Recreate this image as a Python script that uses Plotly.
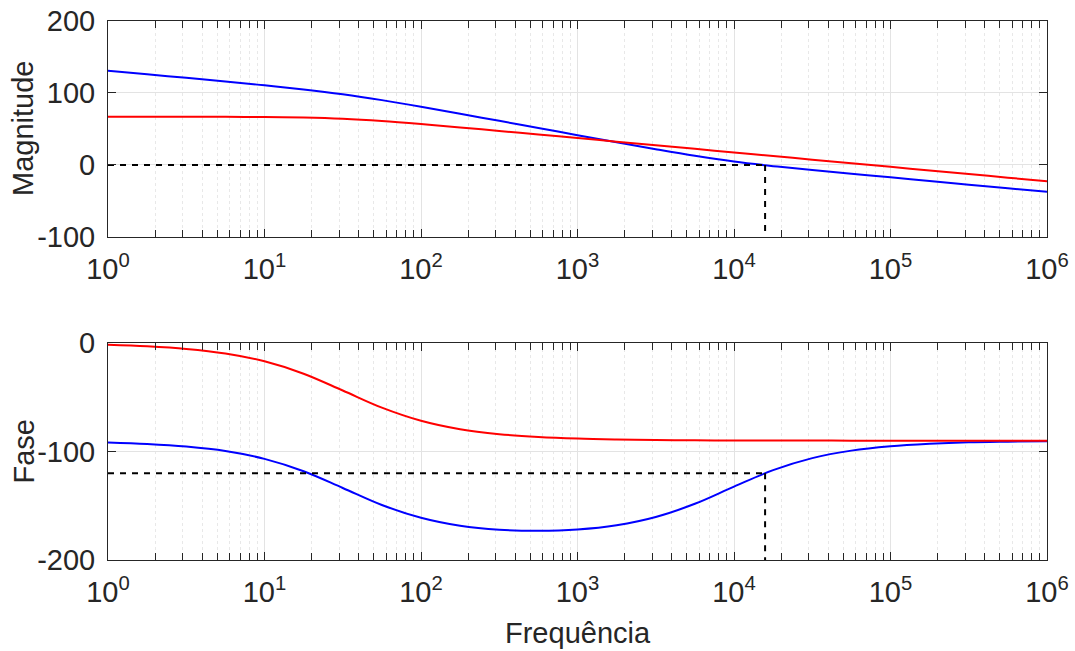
import plotly.graph_objects as go

# ---- data ----
freq = [1, 1.778, 3.162, 5.623, 10, 17.78, 31.62, 56.23, 100, 177.8, 316.2, 562.3,
        1000, 1778, 3162, 5623, 10000, 17783, 31623, 56234, 100000, 177828, 316228,
        562341, 1000000]
mag_open = [131.0, 126.0, 121.0, 115.9, 110.6, 104.9, 98.2, 90.1, 80.9, 71.2, 61.3, 51.4,
            41.4, 31.5, 21.9, 12.8, 4.8, -1.6, -7.1, -12.3, -17.2, -22.3, -27.3, -32.3, -37.3]
mag_plant = [67.0, 67.0, 67.0, 66.9, 66.6, 65.9, 64.2, 61.1, 56.9, 52.2, 47.3, 42.4,
             37.4, 32.4, 27.4, 22.4, 17.4, 12.4, 7.4, 2.4, -2.6, -7.6, -12.6, -17.6, -22.6]
phase_open = [-91.7, -93.1, -95.5, -99.6, -106.8, -118.2, -133.6, -149.3, -161.1, -168.4,
              -172.1, -173.1, -171.9, -168.0, -160.4, -148.2, -132.4, -117.2, -106.1, -99.2,
              -95.2, -92.9, -91.5, -90.9, -90.5]
phase_plant = [-1.7, -3.1, -5.5, -9.7, -16.9, -28.3, -43.8, -59.6, -71.7, -79.5, -84.0,
               -86.6, -88.1, -88.9, -89.4, -89.7, -89.8, -89.9, -89.9, -90.0, -90.0, -90.0,
               -90.0, -90.0, -90.0]

f_start = 1
f_cross = 15800          # crossover frequency
mag_ref = 0              # 0 dB line
mag_min = -100
phase_ref = -120         # phase at crossover
phase_min = -200

x_tickvals = [1, 10, 100, 1000, 10000, 100000, 1000000]
x_ticktext = ["10<sup>0</sup>", "10<sup>1</sup>", "10<sup>2</sup>", "10<sup>3</sup>",
              "10<sup>4</sup>", "10<sup>5</sup>", "10<sup>6</sup>"]
mag_ticks = [-100, 0, 100, 200]
mag_ticktext = ["-100", "0", "100", "200"]
phase_ticks = [-200, -100, 0]
phase_ticktext = ["-200", "-100", "0"]

# ---- figure ----
BLUE = "rgb(0,0,255)"
RED = "rgb(255,0,0)"
TXT = "#262626"
FONT = "Liberation Sans, Arial, sans-serif"

fig = go.Figure()

def curves(xa, ya, yb, yr):
    fig.add_trace(go.Scatter(x=freq, y=yb, mode="lines", line=dict(color=BLUE, width=2, shape="spline"),
                             xaxis=xa, yaxis=ya, showlegend=False, hoverinfo="skip"))
    fig.add_trace(go.Scatter(x=freq, y=yr, mode="lines", line=dict(color=RED, width=2, shape="spline"),
                             xaxis=xa, yaxis=ya, showlegend=False, hoverinfo="skip"))

curves("x", "y", mag_open, mag_plant)
curves("x2", "y2", phase_open, phase_plant)

dash = dict(color="black", width=2, dash="6px,6px")
fig.add_trace(go.Scatter(x=[f_start, f_cross], y=[mag_ref, mag_ref], mode="lines", line=dash,
                         xaxis="x", yaxis="y", showlegend=False, hoverinfo="skip"))
fig.add_trace(go.Scatter(x=[f_cross, f_cross], y=[mag_ref, mag_min], mode="lines", line=dash,
                         xaxis="x", yaxis="y", showlegend=False, hoverinfo="skip"))
fig.add_trace(go.Scatter(x=[f_start, f_cross], y=[phase_ref, phase_ref], mode="lines", line=dash,
                         xaxis="x2", yaxis="y2", showlegend=False, hoverinfo="skip"))
fig.add_trace(go.Scatter(x=[f_cross, f_cross], y=[phase_ref, phase_min], mode="lines", line=dash,
                         xaxis="x2", yaxis="y2", showlegend=False, hoverinfo="skip"))

minor_vals = [m * 10 ** d for d in range(6) for m in range(2, 10)]

def xaxis(anchor):
    return dict(
        type="log", range=[0, 6], anchor=anchor, domain=[0, 1],
        tickmode="array", tickvals=x_tickvals, ticktext=x_ticktext,
        ticks="inside", ticklen=8, tickwidth=1, tickcolor=TXT,
        showline=True, linecolor=TXT, linewidth=1, mirror="ticks",
        showgrid=True, gridcolor="#e3e3e3", gridwidth=1,
        minor=dict(tickmode="array", tickvals=minor_vals, ticks="inside", ticklen=7,
                   tickcolor=TXT, showgrid=True, gridcolor="#e8e8e8", griddash="dot", gridwidth=1),
        tickfont=dict(family=FONT, size=29, color=TXT),
        ticklabelstandoff=6, zeroline=False,
    )

def yaxis(anchor, domain, rng, ticks, text):
    return dict(
        range=rng, anchor=anchor, domain=domain,
        tickmode="array", tickvals=ticks, ticktext=text,
        ticks="inside", ticklen=8, tickwidth=1, tickcolor=TXT,
        showline=True, linecolor=TXT, linewidth=1, mirror="ticks",
        showgrid=True, gridcolor="#e3e3e3", gridwidth=1,
        tickfont=dict(family=FONT, size=29, color=TXT),
        ticklabelstandoff=6, zeroline=False,
    )

fig.update_layout(
    width=1075, height=651,
    margin=dict(l=108, r=28, t=21, b=91, autoexpand=False),
    paper_bgcolor="white", plot_bgcolor="white",
    xaxis=xaxis("y"),
    yaxis=yaxis("x", [0.5993, 1], [-100, 200], mag_ticks, mag_ticktext),
    xaxis2=xaxis("y2"),
    yaxis2=yaxis("x2", [0, 0.4026], [-200, 0], phase_ticks, phase_ticktext),
    showlegend=False,
)

title_font = dict(family=FONT, size=29, color=TXT)
fig.add_annotation(text="Magnitude", textangle=-90, xref="paper", yref="paper",
                   x=-108 / 939 + 23 / 939, y=(560 - 129) / 539, xanchor="center", yanchor="middle",
                   showarrow=False, font=title_font)
fig.add_annotation(text="Fase", textangle=-90, xref="paper", yref="paper",
                   x=-108 / 939 + 23 / 939, y=(560 - 451.5) / 539, xanchor="center", yanchor="middle",
                   showarrow=False, font=title_font)
fig.add_annotation(text="Frequência", xref="paper", yref="paper",
                   x=0.5, y=-(633 - 560) / 539, xanchor="center", yanchor="middle",
                   showarrow=False, font=title_font)

fig.write_html("out.html", config={"displayModeBar": False},
               post_script="document.body.style.margin='0';document.body.style.overflow='hidden';")
